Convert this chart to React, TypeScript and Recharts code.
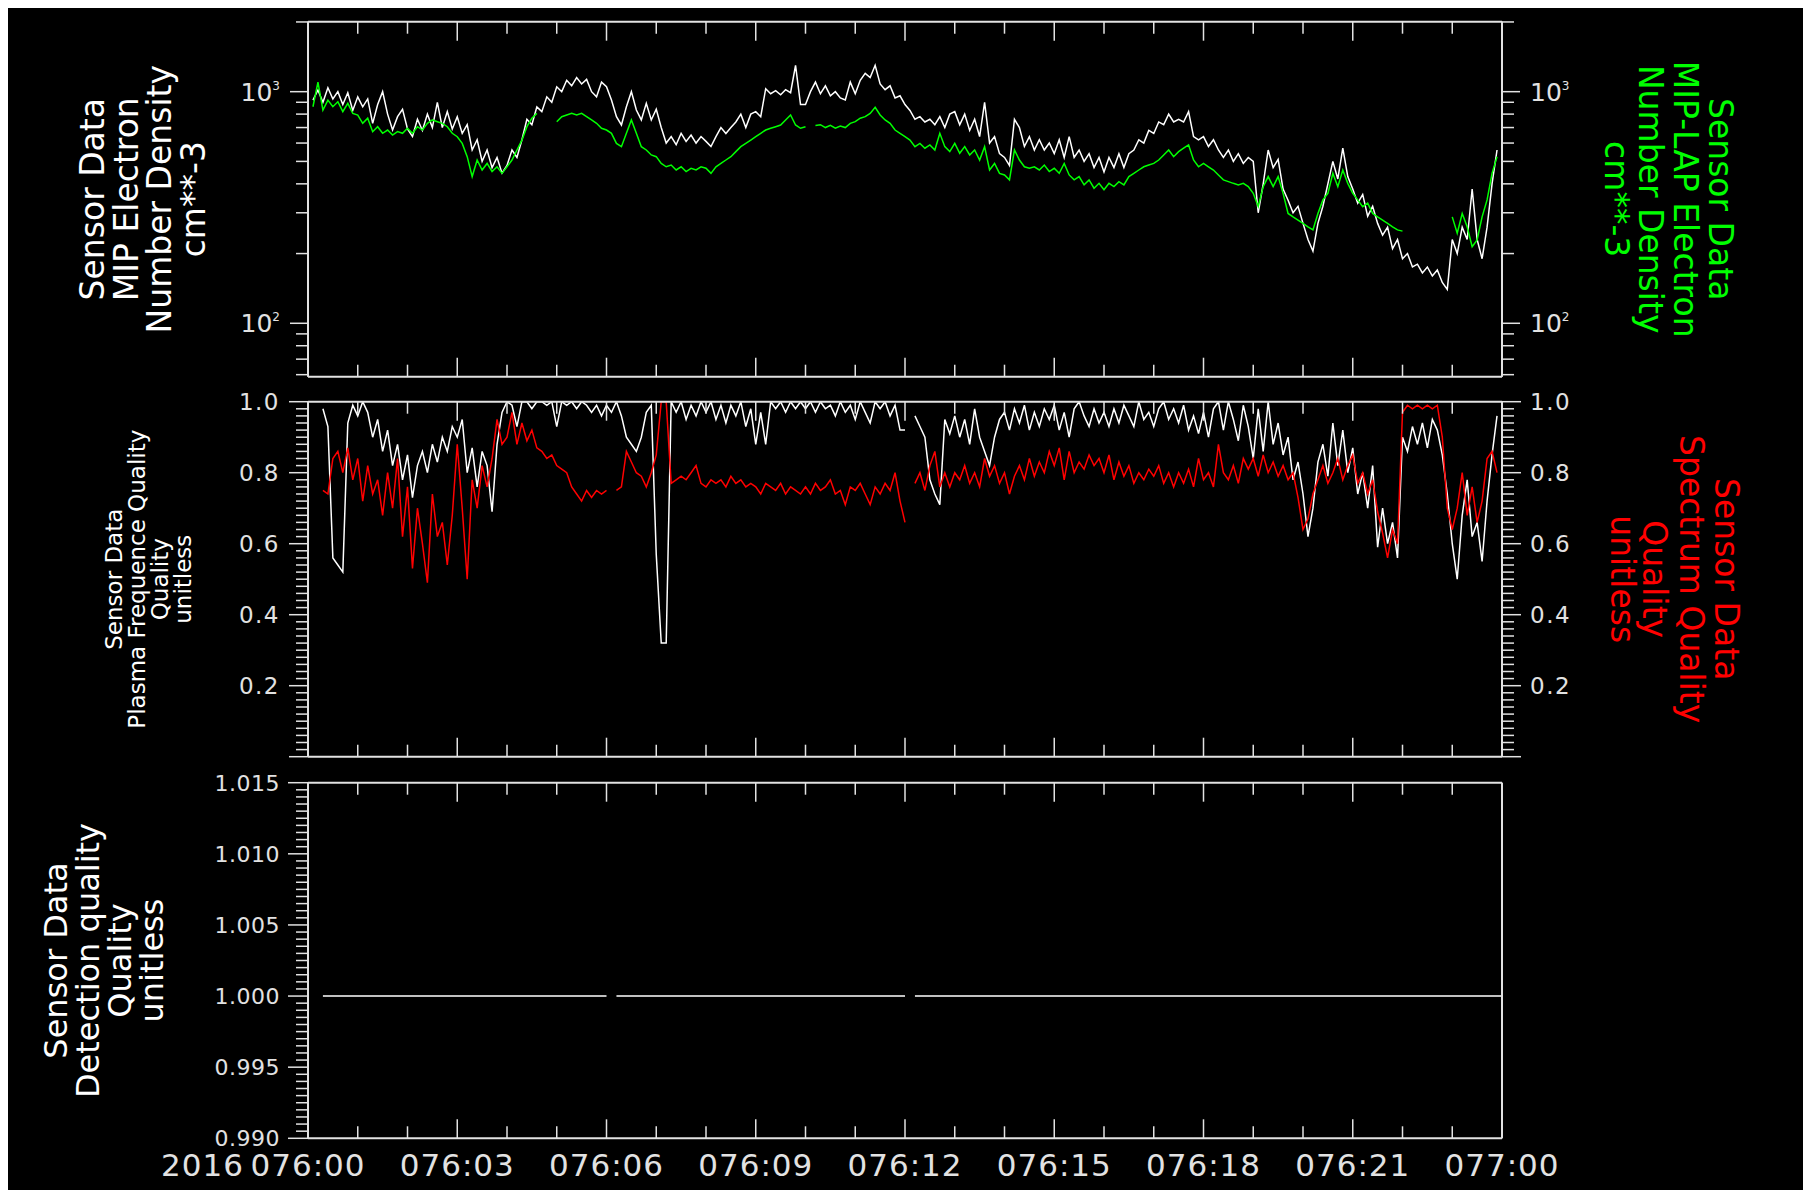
import React from 'react';
import { LineChart, Line, XAxis, YAxis } from 'recharts';

const FONT = '"DejaVu Sans", sans-serif';
const FRAME = '#e2e2e2';
const WIDTH = 1803;
// plot spans x 300..1494 inside the black frame; axes take 1px each
const SIDE_MARGIN = { left: 299, right: 308 };
const AXIS_LINE = { stroke: FRAME, strokeWidth: 2 };

// hours after 2016 day 076 00:00
const HOUR_TICKS = [0, 1, 2, 3, 4, 5, 6, 7, 8, 9, 10, 11, 12, 13, 14, 15, 16, 17, 18, 19, 20, 21, 22, 23, 24];
const TIME_LABELS = ['2016 076:00', '076:03', '076:06', '076:09', '076:12', '076:15', '076:18', '076:21', '077:00'];

const DENSITY_TICKS = [60, 70, 80, 90, 100, 200, 300, 400, 500, 600, 700, 800, 900, 1000, 2000];
const DENSITY_EXP: Record<number, string> = { 100: '2', 1000: '3' };
const QUALITY_LABELS = ['0.2', '0.4', '0.6', '0.8', '1.0'];
const DETECTION_LABELS = ['0.990', '0.995', '1.000', '1.005', '1.010', '1.015'];

// minor tick grids (0.02 and 0.0005 steps)
const QUALITY_TICKS = Array.from({ length: 51 }, (_, i) => i / 50);
const DETECTION_TICKS = Array.from({ length: 51 }, (_, i) => 0.99 + i * 0.0005);

// one sample every 0.1 h
const TIMES = Array.from({ length: 241 }, (_, i) => i / 10);

// MIP electron number density, cm**-3
const mipDensity = [
  null, 920, 1017, 900, 1040, 930, 1000, 880, 990, 830,
  950, 860, 930, 730, 880, 1000, 800, 683, 780, 840,
  690, 640, 760, 680, 800, 700, 900, 700, 820, 690,
  780, 660, 720, 560, 620, 500, 560, 470, 520, 445,
  480, 560, 520, 620, 760, 720, 860, 820, 950, 900,
  1050, 1000, 1120, 1060, 1150, 1080, 1130, 1000, 950, 1100,
  1050, 920, 780, 718, 861, 1000, 833, 755, 890, 755,
  840, 700, 600, 640, 590, 660, 610, 650, 600, 640,
  610, 580, 640, 700, 660, 700, 740, 800, 700, 800,
  820, 780, 1030, 980, 1010, 970, 1020, 990, 1300, 880,
  880, 1000, 1100, 980, 1060, 960, 1000, 940, 920, 1100,
  980, 1120, 1200, 1150, 1300, 1080, 1020, 1060, 940, 960,
  880, 830, 760, 780, 740, 760, 720, 780, 700, 800,
  820, 720, 800, 680, 760, 640, 900, 600, 640, 540,
  520, 480, 760, 700, 580, 640, 560, 620, 560, 600,
  540, 620, 520, 640, 520, 560, 500, 540, 470, 520,
  450, 520, 470, 540, 470, 540, 560, 620, 600, 680,
  660, 740, 720, 800, 740, 760, 740, 820, 640, 620,
  640, 580, 620, 560, 520, 560, 500, 540, 490, 520,
  500, 300, 400, 560, 470, 510, 380, 340, 300, 320,
  270, 230, 205, 270, 320, 400, 500, 420, 570, 430,
  380, 330, 360, 290, 320, 270, 240, 260, 210, 230,
  190, 200, 175, 180, 165, 175, 160, 170, 150, 140,
  230, 200, 260, 230, 380, 230, 190, 260, 400, 560,
  null,
];

// MIP-LAP electron number density, cm**-3
const lapDensity = [
  null, 861, 1100, 833, 920, 861, 905, 820, 890, 806,
  793, 730, 768, 672, 706, 661, 683, 650, 672, 661,
  695, 661, 706, 683, 730, 755, 742, 730, 706, 661,
  639, 598, 524, 430, 507, 459, 490, 452, 474, 444,
  474, 507, 560, 618, 706, 768, 806, null, null, null,
  742, 780, 793, 806, 793, 806, 780, 755, 730, 695,
  683, 661, 598, 579, 661, 755, 661, 579, 560, 533,
  524, 490, 474, 482, 459, 474, 452, 467, 459, 474,
  467, 444, 474, 490, 507, 524, 551, 579, 598, 618,
  639, 661, 683, 695, 706, 718, 755, 793, 718, 695,
  706, null, 715, 720, 700, 715, 695, 710, 700, 730,
  742, 768, 780, 806, 856, 793, 755, 730, 683, 661,
  639, 618, 579, 598, 570, 589, 560, 661, 579, 551,
  598, 542, 579, 533, 560, 507, 579, 459, 490, 444,
  437, 416, 560, 507, 474, 467, 474, 459, 482, 452,
  467, 444, 490, 437, 416, 430, 396, 416, 383, 402,
  377, 402, 389, 409, 396, 430, 444, 459, 474, 482,
  490, 507, 533, 560, 524, 551, 570, 589, 507, 474,
  490, 474, 459, 437, 416, 409, 402, 396, 402, 389,
  364, 319, 389, 430, 389, 430, 364, 298, 288, 279,
  270, 261, 253, 298, 341, 364, 444, 389, 459, 402,
  364, 341, 319, 330, 298, 288, 279, 270, 261, 253,
  250, null, null, null, null, null, null, null, null, null,
  288, 245, 298, 261, 214, 229, 288, 341, 444, 524,
  null,
];

// plasma frequence quality, unitless
const plasmaQuality = [
  null, null, null, 0.98, 0.93, 0.56, 0.54, 0.52, 0.94, 0.99,
  0.96, 1.0, 0.97, 0.9, 0.95, 0.86, 0.92, 0.82, 0.88, 0.78,
  0.85, 0.73, 0.82, 0.86, 0.8, 0.88, 0.83, 0.9, 0.86, 0.93,
  0.9, 0.95, 0.8, 0.87, 0.76, 0.86, 0.82, 0.69, 0.88, 0.97,
  1.0, 0.99, 0.93, 1.0, 1.0, 0.98, 1.0, 1.0, 0.99, 1.0,
  0.93, 1.0, 0.99, 1.0, 0.98, 1.0, 0.99, 0.97, 0.99, 0.96,
  0.99, 0.97, 1.0, 0.96, 0.9, 0.88, 0.86, 0.9, 0.97, 0.99,
  0.57, 0.32, 0.32, 1.0, 0.97, 1.0, 0.95, 0.99, 0.96, 1.0,
  0.97, 1.0, 0.95, 0.99, 0.94, 0.99, 0.96, 1.0, 0.93, 0.98,
  0.88, 0.97, 0.88, 1.0, 0.98, 1.0, 0.97, 1.0, 0.98, 1.0,
  0.98, 1.0, 0.97, 1.0, 0.98, 0.99, 0.96, 1.0, 0.97, 0.99,
  0.95, 1.0, 0.97, 0.94, 1.0, 0.98, 1.0, 0.96, 0.99, 0.92,
  0.92, null, 0.96, 0.93, 0.9, 0.78, 0.74, 0.71, 0.95, 0.91,
  0.96, 0.9, 0.95, 0.88, 0.98, 0.9, 0.86, 0.82, 0.9, 0.95,
  0.97, 0.92, 0.98, 0.94, 0.99, 0.92, 0.97, 0.93, 0.98, 0.95,
  0.99, 0.92, 0.97, 0.9, 0.98, 1.0, 0.96, 0.93, 0.98, 0.94,
  0.97, 0.93, 0.98, 0.94, 0.99, 0.96, 0.93, 1.0, 0.95, 0.97,
  0.93, 0.98, 1.0, 0.95, 0.98, 0.94, 0.99, 0.92, 0.96, 0.91,
  0.97, 0.9, 0.98, 1.0, 0.92, 1.0, 0.95, 0.89, 0.99, 0.93,
  0.84, 0.98, 0.86, 1.0, 0.88, 0.94, 0.85, 0.9, 0.78, 0.83,
  0.74, 0.62, 0.7, 0.83, 0.88, 0.79, 0.94, 0.82, 0.92, 0.8,
  0.87, 0.74, 0.8, 0.7, 0.82, 0.59, 0.7, 0.6, 0.66, 0.56,
  0.9, 0.86, 0.93, 0.88, 0.94, 0.87, 0.95, 0.92, 0.85, 0.74,
  0.6, 0.5, 0.68, 0.78, 0.62, 0.66, 0.55, 0.72, 0.85, 0.96,
  null,
];

// spectrum quality, unitless
const spectrumQuality = [
  null, null, null, 0.75, 0.74, 0.84, 0.86, 0.8, 0.87, 0.78,
  0.84, 0.72, 0.82, 0.74, 0.78, 0.68, 0.8, 0.7, 0.84, 0.62,
  0.76, 0.53, 0.7, 0.6, 0.49, 0.74, 0.62, 0.66, 0.54, 0.68,
  0.88, 0.7, 0.5, 0.78, 0.7, 0.82, 0.76, 0.84, 0.95, 0.88,
  0.9, 0.97, 0.88, 0.94, 0.89, 0.92, 0.87, 0.86, 0.84, 0.85,
  0.82, 0.81, 0.8, 0.76, 0.74, 0.72, 0.75, 0.73, 0.75, 0.74,
  0.75, null, 0.75, 0.76, 0.86, 0.83, 0.8, 0.79, 0.76, 0.8,
  0.85, 1.0, 1.0, 0.77, 0.78, 0.79, 0.78, 0.8, 0.82, 0.77,
  0.76, 0.78, 0.77, 0.78, 0.76, 0.79, 0.77, 0.78, 0.76, 0.77,
  0.76, 0.74, 0.77, 0.76, 0.75, 0.77, 0.74, 0.76, 0.75, 0.74,
  0.76, 0.74, 0.77, 0.75, 0.76, 0.78, 0.74, 0.75, 0.71, 0.76,
  0.75, 0.77, 0.74, 0.71, 0.76, 0.74, 0.77, 0.75, 0.8, 0.72,
  0.66, null, 0.77, 0.8, 0.75, 0.82, 0.86, 0.76, 0.8, 0.76,
  0.8, 0.78, 0.82, 0.77, 0.8, 0.76, 0.84, 0.79, 0.82, 0.77,
  0.8, 0.74, 0.79, 0.82, 0.78, 0.84, 0.79, 0.83, 0.8, 0.86,
  0.82, 0.87, 0.78, 0.86, 0.8, 0.83, 0.81, 0.85, 0.82, 0.84,
  0.8, 0.85, 0.78, 0.83, 0.79, 0.82, 0.77, 0.8, 0.78, 0.81,
  0.79, 0.82, 0.77, 0.8, 0.76, 0.8, 0.77, 0.81, 0.76, 0.84,
  0.78, 0.8, 0.76, 0.88, 0.8, 0.78, 0.82, 0.77, 0.84, 0.81,
  0.84, 0.79, 0.85, 0.8, 0.83, 0.79, 0.82, 0.78, 0.8, 0.73,
  0.64, 0.67, 0.74, 0.78, 0.82, 0.77, 0.8, 0.84, 0.78, 0.82,
  0.85, 0.77, 0.8, 0.74, 0.78, 0.69, 0.63, 0.56, 0.64, 0.6,
  0.97, 0.99, 0.98, 0.99, 0.98, 0.99, 0.98, 0.99, 0.9, 0.7,
  0.64, 0.7, 0.8, 0.68, 0.76, 0.66, 0.72, 0.84, 0.86, 0.8,
  null,
];

// detection quality, unitless
const detectionQuality = [
  null, null, null, 1, 1, 1, 1, 1, 1, 1,
  1, 1, 1, 1, 1, 1, 1, 1, 1, 1,
  1, 1, 1, 1, 1, 1, 1, 1, 1, 1,
  1, 1, 1, 1, 1, 1, 1, 1, 1, 1,
  1, 1, 1, 1, 1, 1, 1, 1, 1, 1,
  1, 1, 1, 1, 1, 1, 1, 1, 1, 1,
  1, null, 1, 1, 1, 1, 1, 1, 1, 1,
  1, 1, 1, 1, 1, 1, 1, 1, 1, 1,
  1, 1, 1, 1, 1, 1, 1, 1, 1, 1,
  1, 1, 1, 1, 1, 1, 1, 1, 1, 1,
  1, 1, 1, 1, 1, 1, 1, 1, 1, 1,
  1, 1, 1, 1, 1, 1, 1, 1, 1, 1,
  1, null, 1, 1, 1, 1, 1, 1, 1, 1,
  1, 1, 1, 1, 1, 1, 1, 1, 1, 1,
  1, 1, 1, 1, 1, 1, 1, 1, 1, 1,
  1, 1, 1, 1, 1, 1, 1, 1, 1, 1,
  1, 1, 1, 1, 1, 1, 1, 1, 1, 1,
  1, 1, 1, 1, 1, 1, 1, 1, 1, 1,
  1, 1, 1, 1, 1, 1, 1, 1, 1, 1,
  1, 1, 1, 1, 1, 1, 1, 1, 1, 1,
  1, 1, 1, 1, 1, 1, 1, 1, 1, 1,
  1, 1, 1, 1, 1, 1, 1, 1, 1, 1,
  1, 1, 1, 1, 1, 1, 1, 1, 1, 1,
  1, 1, 1, 1, 1, 1, 1, 1, 1, 1,
  1,
];

const rows = TIMES.map((t, i) => ({
  t,
  mip: mipDensity[i],
  lap: lapDensity[i],
  pfq: plasmaQuality[i],
  spq: spectrumQuality[i],
  det: detectionQuality[i],
}));

const textProps = { fill: FRAME, fontFamily: FONT };

// time ticks point into the plot; labels only on the bottom panel
const xTick = (side: 'top' | 'bottom', withLabels: boolean) => (props: any) => {
  const { x, y, payload } = props;
  const h = payload.value as number;
  const major = h % 3 === 0;
  const dir = side === 'top' ? 1 : -1;
  const label = withLabels && major ? TIME_LABELS[h / 3] : null;
  const parts = label ? label.split(' ') : [];
  return (
    <g>
      <line x1={x} y1={y} x2={x} y2={y + dir * (major ? 19 : 12)} stroke={FRAME} strokeWidth={1.5} />
      {label && (
        <text x={x} y={y + 38} textAnchor="middle" fontSize={31} letterSpacing={1} {...textProps}>
          {parts[parts.length - 1]}
        </text>
      )}
      {parts.length > 1 && (
        <text x={x - 64} y={y + 38} textAnchor="end" fontSize={31} letterSpacing={1} {...textProps}>
          {parts[0]}
        </text>
      )}
    </g>
  );
};

type YTickCfg = {
  side: 'left' | 'right';
  isMajor: (v: number) => boolean;
  label: (v: number) => React.ReactNode;
  fontSize: number;
  majorLen: number;
  spacing?: number;
};

const yTick = (cfg: YTickCfg) => (props: any) => {
  const { x, y, payload } = props;
  const v = payload.value as number;
  const major = cfg.isMajor(v);
  const dir = cfg.side === 'left' ? -1 : 1;
  const label = major ? cfg.label(v) : null;
  return (
    <g>
      <line x1={x} y1={y} x2={x + dir * (major ? cfg.majorLen : 12)} y2={y} stroke={FRAME} strokeWidth={1.5} />
      {label != null && (
        <text
          x={x + dir * 28}
          y={y}
          dy="0.36em"
          textAnchor={cfg.side === 'left' ? 'end' : 'start'}
          fontSize={cfg.fontSize}
          letterSpacing={cfg.spacing || 0}
          {...textProps}
        >
          {label}
        </text>
      )}
    </g>
  );
};

const densityTick = (side: 'left' | 'right') =>
  yTick({
    side,
    fontSize: 25,
    majorLen: 18,
    isMajor: (v) => DENSITY_EXP[v] !== undefined,
    label: (v) => (
      <>
        <tspan>10</tspan>
        <tspan fontSize={12} dy={-11}>{DENSITY_EXP[v]}</tspan>
      </>
    ),
  });

const qualityIndex = (v: number) => Math.round(v * 50);
const qualityTick = (side: 'left' | 'right') =>
  yTick({
    side,
    fontSize: 23,
    spacing: 1.5,
    majorLen: 19,
    isMajor: (v) => qualityIndex(v) % 10 === 0,
    label: (v) => (qualityIndex(v) === 0 ? null : QUALITY_LABELS[qualityIndex(v) / 10 - 1]),
  });

const detectionIndex = (v: number) => Math.round((v - 0.99) / 0.0005);
const detectionTick = yTick({
  side: 'left',
  fontSize: 22,
  spacing: 0.5,
  majorLen: 20,
  isMajor: (v) => detectionIndex(v) % 10 === 0,
  label: (v) => DETECTION_LABELS[detectionIndex(v) / 10],
});

// stacked, rotated axis titles drawn relative to the axis line
const axisTitle =
  (lines: string[], color: string, size: number, offsets: number[], side: 'left' | 'right') =>
  (props: any) => {
    const vb = props.viewBox;
    if (!vb) return null;
    const ax = side === 'left' ? vb.x + (vb.width || 0) : vb.x;
    const cy = vb.y + vb.height / 2;
    const rot = side === 'left' ? -90 : 90;
    return (
      <g>
        {lines.map((line, i) => {
          const cx = ax + offsets[i];
          return (
            <text
              key={line + i}
              x={cx}
              y={cy}
              transform={`rotate(${rot} ${cx} ${cy})`}
              textAnchor="middle"
              dominantBaseline="central"
              fill={color}
              fontSize={size}
              fontFamily={FONT}
            >
              {line}
            </text>
          );
        })}
      </g>
    );
  };

const timeAxes = (withLabels: boolean) => [
  <XAxis
    key="b"
    xAxisId="b"
    dataKey="t"
    type="number"
    domain={[0, 24]}
    ticks={HOUR_TICKS}
    interval={0}
    height={1}
    tickSize={0}
    tickMargin={0}
    tickLine={false}
    axisLine={AXIS_LINE}
    tick={xTick('bottom', withLabels)}
    allowDataOverflow
  />,
  <XAxis
    key="t"
    xAxisId="t"
    orientation="top"
    dataKey="t"
    type="number"
    domain={[0, 24]}
    ticks={HOUR_TICKS}
    interval={0}
    height={1}
    tickSize={0}
    tickMargin={0}
    tickLine={false}
    axisLine={AXIS_LINE}
    tick={xTick('top', false)}
    allowDataOverflow
  />,
];

const yCommon = {
  type: 'number' as const,
  interval: 0 as const,
  width: 1,
  tickSize: 0,
  tickMargin: 0,
  tickLine: false,
  axisLine: AXIS_LINE,
  allowDataOverflow: true,
};

export default function App() {
  return (
    <div style={{ position: 'relative', width: WIDTH, height: 1187, marginTop: -5, background: '#000' }}>
      <div style={{ position: 'absolute', left: 0, top: 0 }}>
        <LineChart width={WIDTH} height={388} data={rows} margin={{ top: 17.7, bottom: 13.3, ...SIDE_MARGIN }}>
          {timeAxes(false)}
          <YAxis
            yAxisId="l"
            scale="log"
            domain={[58.8, 2005]}
            ticks={DENSITY_TICKS}
            tick={densityTick('left')}
            label={axisTitle(
              ['Sensor Data', 'MIP Electron', 'Number Density', 'cm**-3'],
              '#ffffff',
              33,
              [-215, -181, -148, -114],
              'left',
            )}
            {...yCommon}
          />
          <YAxis
            yAxisId="r"
            orientation="right"
            scale="log"
            domain={[58.8, 2005]}
            ticks={DENSITY_TICKS}
            tick={densityTick('right')}
            label={axisTitle(
              ['Sensor Data', 'MIP-LAP Electron', 'Number Density', 'cm**-3'],
              '#00ff00',
              33,
              [218, 183, 148, 114],
              'right',
            )}
            {...yCommon}
          />
          <Line xAxisId="b" yAxisId="l" type="linear" dataKey="mip" stroke="#ffffff" strokeWidth={1.5} dot={false} isAnimationActive={false} />
          <Line xAxisId="b" yAxisId="l" type="linear" dataKey="lap" stroke="#00ff00" strokeWidth={1.5} dot={false} isAnimationActive={false} />
        </LineChart>
      </div>

      <div style={{ position: 'absolute', left: 0, top: 376 }}>
        <LineChart width={WIDTH} height={392} data={rows} margin={{ top: 21.7, bottom: 13.3, ...SIDE_MARGIN }}>
          {timeAxes(false)}
          <YAxis
            yAxisId="l"
            domain={[0, 1]}
            ticks={QUALITY_TICKS}
            tick={qualityTick('left')}
            label={axisTitle(
              ['Sensor Data', 'Plasma Frequence Quality', 'Quality', 'unitless'],
              '#ffffff',
              23,
              [-194, -171, -148, -125],
              'left',
            )}
            {...yCommon}
          />
          <YAxis
            yAxisId="r"
            orientation="right"
            domain={[0, 1]}
            ticks={QUALITY_TICKS}
            tick={qualityTick('right')}
            label={axisTitle(
              ['Sensor Data', 'Spectrum Quality', 'Quality', 'unitless'],
              '#ff0000',
              33,
              [224, 189, 152, 120],
              'right',
            )}
            {...yCommon}
          />
          <Line xAxisId="b" yAxisId="l" type="linear" dataKey="pfq" stroke="#ffffff" strokeWidth={1.5} dot={false} isAnimationActive={false} />
          <Line xAxisId="b" yAxisId="l" type="linear" dataKey="spq" stroke="#ff0000" strokeWidth={1.5} dot={false} isAnimationActive={false} />
        </LineChart>
      </div>

      <div style={{ position: 'absolute', left: 0, top: 756 }}>
        <LineChart width={WIDTH} height={431} data={rows} margin={{ top: 22.7, bottom: 50.7, ...SIDE_MARGIN }}>
          {timeAxes(true)}
          <YAxis
            yAxisId="l"
            domain={[0.99, 1.015]}
            ticks={DETECTION_TICKS}
            tick={detectionTick}
            label={axisTitle(
              ['Sensor Data', 'Detection quality', 'Quality', 'unitless'],
              '#ffffff',
              32,
              [-252, -220, -188, -156],
              'left',
            )}
            {...yCommon}
          />
          <YAxis yAxisId="r" orientation="right" domain={[0.99, 1.015]} ticks={DETECTION_TICKS} {...yCommon} tick={false} />
          <Line xAxisId="b" yAxisId="l" type="linear" dataKey="det" stroke="#ffffff" strokeWidth={1.5} dot={false} isAnimationActive={false} />
        </LineChart>
      </div>
    </div>
  );
}
